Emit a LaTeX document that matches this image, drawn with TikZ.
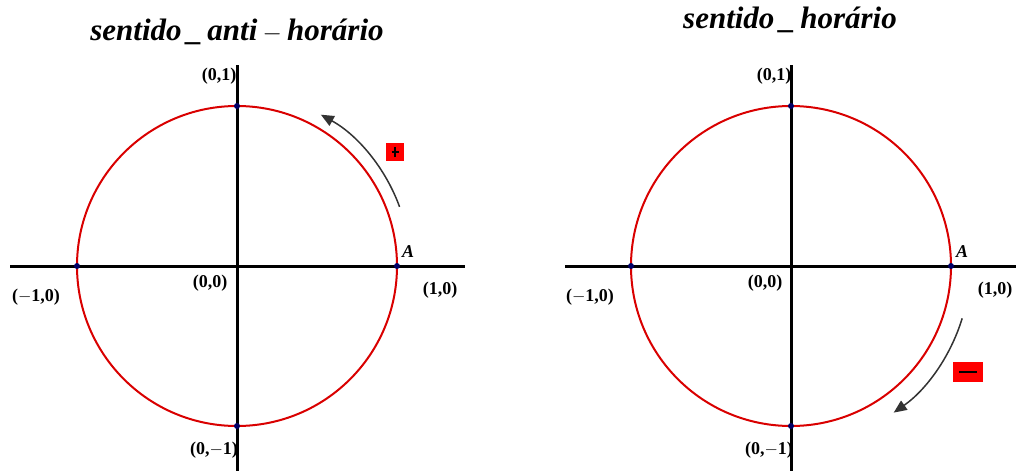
\documentclass[tikz,border=0pt]{standalone}
\usepackage{fontspec}
\setmainfont{Liberation Serif}
\usetikzlibrary{arrows.meta}
\begin{document}
\begin{tikzpicture}[x=1pt,y=-1pt,
  axis/.style={line width=3pt,black},
  circ/.style={line width=2pt,red!85!black},
  dot/.style={circle,fill=blue!40!black,inner sep=0pt,minimum size=6pt},
  lbl/.style={font=\bfseries\fontsize{18}{18}\selectfont,inner sep=0pt},
  ttl/.style={font=\bfseries\itshape\fontsize{31}{31}\selectfont,inner sep=0pt},
  sgn/.style={fill=red,inner sep=0pt},
  dir/.style={line width=1.5pt,black!80,-{Triangle[length=13pt,width=11pt]}}]
\useasboundingbox (0,0) rectangle (1018,471);
% left
\coordinate (O1) at (237,266);
\draw[axis] (10,266) -- (465,266);
\draw[axis] (237,65) -- (237,471);
\draw[circ] (O1) circle (160);
\node[dot] (L1) at (237,106) {};
\node[dot] (L2) at (77,266) {};
\node[dot] (L3) at (397,266) {};
\node[dot] (L4) at (237,426) {};
\node[ttl] (t1) at (237,32) {sentido\,\_\,anti\,$-$\,horário};
\node[lbl] (a1) at (219,76) {(0,1)};
\node[lbl] (a2) at (36,297) {($-$1,0)};
\node[lbl] (a3) at (210,283) {(0,0)};
\node[lbl] (a4) at (440,290) {(1,0)};
\node[lbl,font=\bfseries\itshape\fontsize{18}{18}\selectfont] (a5) at (408,252) {A};
\node[lbl] (a6) at (214,450) {(0,$-$1)};
\draw[dir] ([shift={(-20:173)}]O1) arc[start angle=-20,end angle=-61,radius=173];
\node[sgn,minimum width=18pt,minimum height=18pt] (p1) at (395,152) {\rule[-1pt]{2.5pt}{10pt}\llap{\rule[3pt]{7pt}{2.5pt}\hspace{-2.25pt}}};
% right
\coordinate (O2) at (791,266);
\draw[axis] (565,266) -- (1016,266);
\draw[axis] (791,65) -- (791,471);
\draw[circ] (O2) circle (160);
\node[dot] (R1) at (791,106) {};
\node[dot] (R2) at (631,266) {};
\node[dot] (R3) at (951,266) {};
\node[dot] (R4) at (791,426) {};
\node[ttl] (t2) at (790,20) {sentido\,\_\,horário};
\node[lbl] (b1) at (774,76) {(0,1)};
\node[lbl] (b2) at (590,297) {($-$1,0)};
\node[lbl] (b3) at (765,283) {(0,0)};
\node[lbl] (b4) at (995,290) {(1,0)};
\node[lbl,font=\bfseries\itshape\fontsize{18}{18}\selectfont] (b5) at (962,252) {A};
\node[lbl] (b6) at (769,450) {(0,$-$1)};
\draw[dir] ([shift={(17:179)}]O2) arc[start angle=17,end angle=55,radius=179];
\node[sgn,minimum width=30pt,minimum height=20pt] (m1) at (968,372) {\rule{18pt}{2pt}};
\end{tikzpicture}
\end{document}
